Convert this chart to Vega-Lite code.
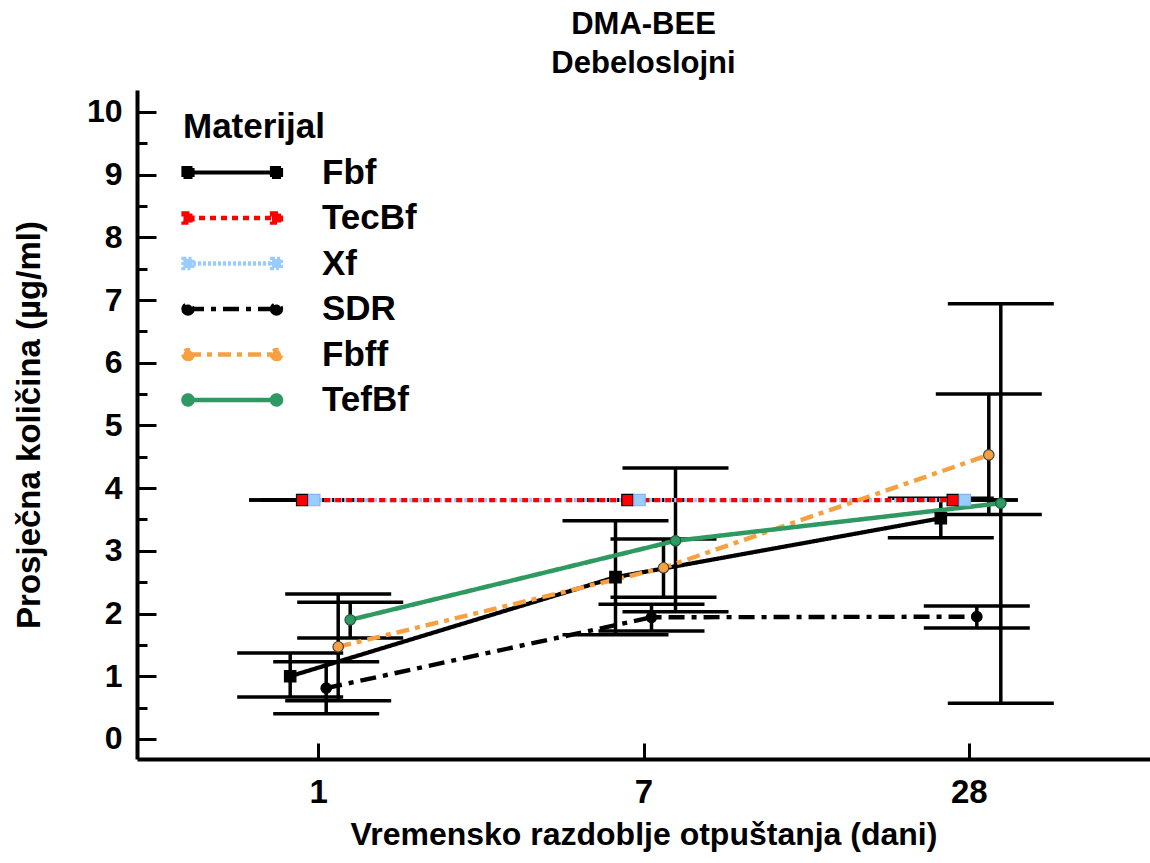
{
  "$schema": "https://vega.github.io/schema/vega-lite/v6.json",
  "width": 1013,
  "height": 669,
  "autosize": "none",
  "padding": {"left": 137, "top": 90, "right": 0, "bottom": 104},
  "background": "white",
  "config": {
    "font": "Liberation Sans",
    "view": {"stroke": null},
    "axis": {"grid": false}
  },
  "title": {
    "text": ["DMA-BEE", "Debeloslojni"],
    "fontSize": 31,
    "fontWeight": "bold",
    "color": "black",
    "lineHeight": 39,
    "offset": 10,
    "anchor": "middle"
  },
  "data": {
    "values": [
      {"series": "Fbf", "day": "1", "mean": 1.00, "lo": 0.67, "hi": 1.37},
      {"series": "Fbf", "day": "7", "mean": 2.58, "lo": 1.66, "hi": 3.48},
      {"series": "Fbf", "day": "28", "mean": 3.52, "lo": 3.21, "hi": 3.84},
      {"series": "TecBf", "day": "1", "mean": 3.81, "lo": 3.81, "hi": 3.81},
      {"series": "TecBf", "day": "7", "mean": 3.81, "lo": 3.81, "hi": 3.81},
      {"series": "TecBf", "day": "28", "mean": 3.81, "lo": 3.81, "hi": 3.81},
      {"series": "Xf", "day": "1", "mean": 3.81, "lo": 3.81, "hi": 3.81},
      {"series": "Xf", "day": "7", "mean": 3.81, "lo": 3.81, "hi": 3.81},
      {"series": "Xf", "day": "28", "mean": 3.81, "lo": 3.81, "hi": 3.81},
      {"series": "SDR", "day": "1", "mean": 0.81, "lo": 0.40, "hi": 1.23},
      {"series": "SDR", "day": "7", "mean": 1.94, "lo": 1.72, "hi": 2.15},
      {"series": "SDR", "day": "28", "mean": 1.95, "lo": 1.77, "hi": 2.12},
      {"series": "Fbff", "day": "1", "mean": 1.47, "lo": 0.61, "hi": 2.31},
      {"series": "Fbff", "day": "7", "mean": 2.73, "lo": 2.26, "hi": 3.19},
      {"series": "Fbff", "day": "28", "mean": 4.53, "lo": 3.58, "hi": 5.50},
      {"series": "TefBf", "day": "1", "mean": 1.90, "lo": 1.61, "hi": 2.18},
      {"series": "TefBf", "day": "7", "mean": 3.16, "lo": 2.03, "hi": 4.32},
      {"series": "TefBf", "day": "28", "mean": 3.76, "lo": 0.57, "hi": 6.94}
    ]
  },
  "encoding": {
    "x": {
      "field": "day",
      "type": "ordinal",
      "sort": ["1", "7", "28"],
      "scale": {"type": "point", "padding": 0.557},
      "axis": {
        "title": "Vremensko razdoblje otpuštanja (dani)",
        "titleFontSize": 32,
        "titleFontWeight": "bold",
        "titleColor": "black",
        "titlePadding": 10,
        "labelFontSize": 33,
        "labelFontWeight": "bold",
        "labelColor": "black",
        "labelAngle": 0,
        "labelPadding": 33,
        "tickSize": -16,
        "tickWidth": 3,
        "tickColor": "black",
        "domainWidth": 4,
        "domainColor": "black"
      }
    },
    "xOffset": {
      "field": "series",
      "type": "nominal",
      "scale": {"type": "point", "domain": ["Fbf", "TecBf", "Xf", "SDR", "Fbff", "TefBf"], "range": [-28, 32], "padding": 0}
    }
  },
  "resolve": {"axis": {"y": "independent"}},
  "layer": [
    {
      "mark": {"type": "rule", "color": "black", "strokeWidth": 3.5},
      "encoding": {
        "y": {
          "field": "lo",
          "type": "quantitative",
          "scale": {"domain": [-0.32, 10.35], "nice": false, "zero": false},
          "axis": {
            "title": "Prosječna količina (µg/ml)",
            "titleFontSize": 33,
            "titleFontWeight": "bold",
            "titleColor": "black",
            "titlePadding": 40,
            "values": [0, 1, 2, 3, 4, 5, 6, 7, 8, 9, 10],
            "labelFontSize": 32,
            "labelFontWeight": "bold",
            "labelColor": "black",
            "labelPadding": 34,
            "tickSize": -19,
            "tickWidth": 3,
            "tickColor": "black",
            "domainWidth": 4,
            "domainColor": "black",
            "orient": "left"
          }
        },
        "y2": {"field": "hi"}
      }
    },
    {
      "mark": {"type": "tick", "color": "black", "size": 106, "thickness": 3.5, "opacity": 1},
      "encoding": {
        "y": {
          "field": "lo",
          "type": "quantitative",
          "scale": {"domain": [-0.32, 10.35], "nice": false, "zero": false},
          "axis": {
            "title": null,
            "values": [0.5, 1.5, 2.5, 3.5, 4.5, 5.5, 6.5, 7.5, 8.5, 9.5],
            "labels": false,
            "domain": false,
            "tickSize": -10,
            "tickWidth": 3,
            "tickColor": "black",
            "orient": "left"
          }
        }
      }
    },
    {
      "mark": {"type": "tick", "color": "black", "size": 106, "thickness": 3.5, "opacity": 1},
      "encoding": {
        "y": {"field": "hi", "type": "quantitative", "axis": null}
      }
    },
    {
      "transform": [{"filter": "datum.series == 'Xf'"}],
      "mark": {"type": "line"},
      "encoding": {
        "y": {"field": "mean", "type": "quantitative", "axis": null},
        "color": {
          "field": "series",
          "type": "nominal",
          "scale": {
            "domain": ["Fbf", "TecBf", "Xf", "SDR", "Fbff", "TefBf"],
            "range": ["#000000", "#ff0000", "#99ccff", "#000000", "#f7a040", "#2e9960"]
          },
          "legend": {
            "orient": "none",
            "legendX": 46,
            "legendY": 20,
            "padding": 0,
            "title": "Materijal",
            "titleFontSize": 35,
            "titleFontWeight": "bold",
            "titleColor": "black",
            "titlePadding": 10,
            "labelFontSize": 35,
            "labelFontWeight": "bold",
            "labelColor": "black",
            "labelOffset": 104,
            "rowPadding": 9.5,
            "symbolSize": 400,
            "symbolStrokeWidth": 2,
            "symbolType": "M-1.25,0L7.6,0",
            "encode": {
              "symbols": {
                "update": {
                  "shape": {"signal": "indexof(['SDR','Fbff','TefBf'], datum.value) >= 0 ? 'M-1.25,0L7.6,0M-1.7,0a0.45,0.45 0 1,0 0.9,0a0.45,0.45 0 1,0 -0.9,0zM7.15,0a0.45,0.45 0 1,0 0.9,0a0.45,0.45 0 1,0 -0.9,0z' : 'M-1.25,0L7.6,0M-1.7,-0.45h0.9v0.9h-0.9zM7.15,-0.45h0.9v0.9h-0.9z'"},
                  "strokeDash": {"signal": "datum.value == 'Xf' ? [2,2] : datum.value == 'SDR' ? [6,3,2,3] : datum.value == 'Fbff' ? [6,3,2,3,2,3] : [1,0]"},
                  "fill": {"scale": "color", "field": "value"},
                  "stroke": {"scale": "color", "field": "value"},
                  "fillOpacity": {"value": 1},
                  "strokeWidth": {"value": 2},
                  "opacity": {"value": 1}
                }
              }
            }
          }
        },
        "strokeDash": {
          "field": "series",
          "type": "nominal",
          "scale": {
            "domain": ["Fbf", "TecBf", "Xf", "SDR", "Fbff", "TefBf"],
            "range": [[1, 0], [6, 5], [3, 2], [16, 7, 5, 7], [13, 6, 5, 6], [1, 0]]
          },
          "legend": null
        },
        "strokeWidth": {
          "field": "series",
          "type": "nominal",
          "scale": {
            "domain": ["Fbf", "TecBf", "Xf", "SDR", "Fbff", "TefBf"],
            "range": [4.2, 4.5, 4.5, 5.5, 5.5, 4.5]
          },
          "legend": null
        }
      }
    },
    {
      "transform": [{"filter": "datum.series != 'Xf'"}],
      "mark": {"type": "line"},
      "encoding": {
        "y": {"field": "mean", "type": "quantitative", "axis": null},
        "color": {"field": "series", "type": "nominal"},
        "strokeDash": {"field": "series", "type": "nominal", "legend": null},
        "strokeWidth": {"field": "series", "type": "nominal", "legend": null}
      }
    },
    {
      "transform": [{"filter": "indexof(['Fbf','TecBf','Xf'], datum.series) >= 0"}],
      "mark": {"type": "point", "shape": "square", "filled": true, "size": 130, "opacity": 1, "strokeWidth": 1.2},
      "encoding": {
        "y": {"field": "mean", "type": "quantitative", "axis": null},
        "fill": {
          "field": "series",
          "type": "nominal",
          "scale": {
            "domain": ["Fbf", "TecBf", "Xf", "SDR", "Fbff", "TefBf"],
            "range": ["#000000", "#ff0000", "#99ccff", "#000000", "#f7a040", "#2e9960"]
          },
          "legend": null
        },
        "stroke": {
          "field": "series",
          "type": "nominal",
          "scale": {
            "domain": ["Fbf", "TecBf", "Xf", "SDR", "Fbff", "TefBf"],
            "range": ["#000000", "#000000", "#7fb5ee", "#000000", "#444444", "#1f5f3c"]
          },
          "legend": null
        }
      }
    },
    {
      "transform": [{"filter": "indexof(['SDR','Fbff','TefBf'], datum.series) >= 0"}],
      "mark": {"type": "point", "shape": "circle", "filled": true, "size": 110, "opacity": 1, "strokeWidth": 1.2},
      "encoding": {
        "y": {"field": "mean", "type": "quantitative", "axis": null},
        "fill": {"field": "series", "type": "nominal", "legend": null},
        "stroke": {"field": "series", "type": "nominal", "legend": null}
      }
    }
  ]
}
